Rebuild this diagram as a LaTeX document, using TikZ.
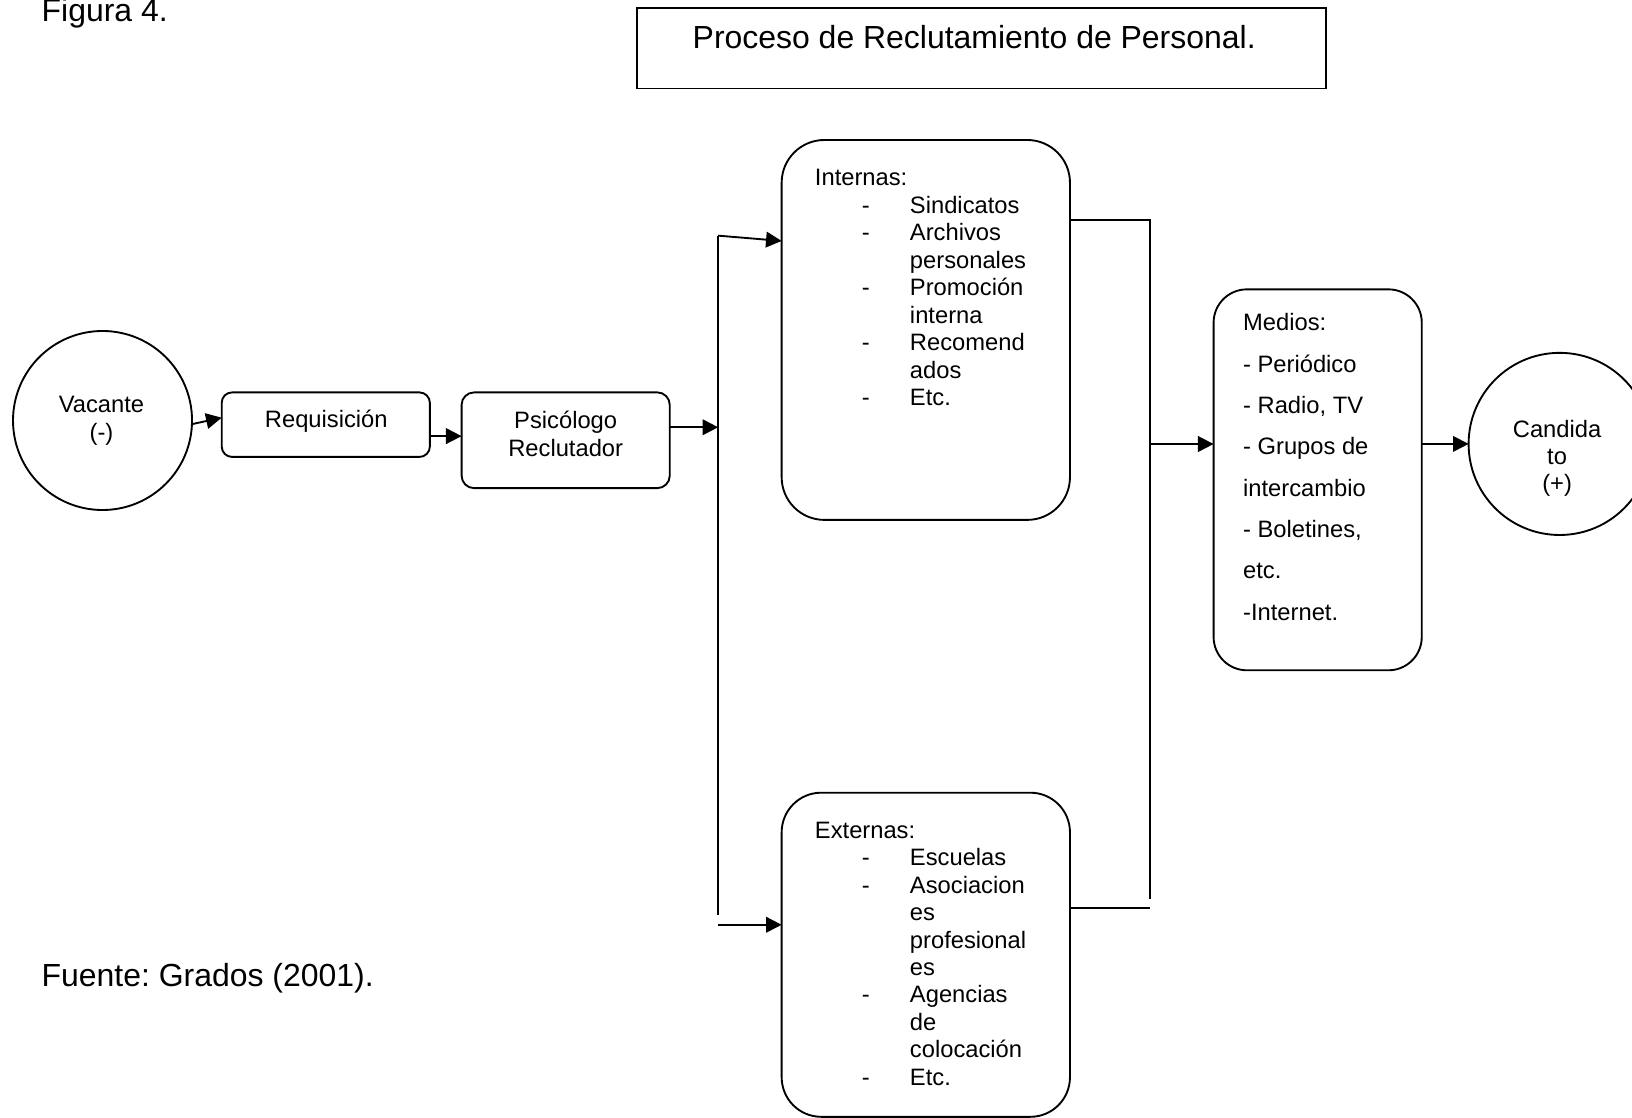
\documentclass[tikz,border=0pt]{standalone}
\usepackage{fontspec}
\setmainfont{Liberation Sans}
\usetikzlibrary{arrows.meta,calc}
\frenchspacing
\begin{document}
\begin{tikzpicture}[x=1pt,y=-1pt,
  every node/.style={inner sep=0pt, outer sep=0pt},
  txt/.style={font=\fontsize{22.8}{26.4}\selectfont},
  big/.style={font=\fontsize{30.7}{35}\selectfont},
  frame/.style={draw, line width=1.8pt},
  rbox/.style={frame, rectangle, rounded corners=#1},
  rbox/.default=10pt,
  ring/.style={frame, circle},
  wire/.style={line width=1.8pt},
  arr/.style={wire, -{Triangle[length=15pt,width=15pt]}},
]
% page
\fill[white] (0,0) rectangle (1568,1074);
\useasboundingbox (0,0) rectangle (1568,1074);
\clip (0,0) rectangle (1568,1074);

% captions
\node[big, anchor=base west] (fig) at (40,20.5) {Figura 4.};
\node[big, anchor=base west] (src) at (40,948) {Fuente: Grados (2001).};

% title
\node[frame, rectangle, minimum width=662pt, minimum height=77pt] (tbox) at (943,46.5) {};
\node[big, anchor=base] (ttl) at (936,47) {Proceso de Reclutamiento de Personal.};

% start / end circles
\node[ring, minimum size=172pt] (vac) at (98.5,404) {};
\foreach \t/\y [count=\i] in {Vacante/396.5, (-)/423}
  \node[txt, anchor=base] (vac-\i) at (97.5,\y) {\t};
\node[ring, minimum size=175pt] (cand) at (1498.5,426.5) {};
\foreach \t/\y [count=\i] in {Candida/420.5, to/446.5, (+)/472.5}
  \node[txt, anchor=base] (cand-\i) at (1496,\y) {\t};

% process boxes
\node[rbox=10pt, minimum width=200pt, minimum height=62pt] (req) at (313,408) {};
\node[txt, anchor=base] (req-t) at (313.5,410.6) {Requisición};
\node[rbox=12pt, minimum width=200pt, minimum height=92pt] (psi) at (543.5,423) {};
\node[txt, anchor=base] (psi-1) at (543.5,412) {Psicólogo};
\node[txt, anchor=base] (psi-2) at (543.5,438.5) {Reclutador};

% sources
\node[rbox=41pt, minimum width=277pt, minimum height=365pt] (int) at (889.5,317) {};
\node[txt, anchor=base west] (int-0) at (783,178.7) {Internas:};
\foreach \d/\t [count=\i] in {-/Sindicatos, -/Archivos, /personales, -/Promoción,
    /interna, -/Recomend, /ados, -/Etc.}{
  \node[txt, anchor=base west] (int-\i) at (874.3,178.7+26.4*\i) {\t};
  \node[txt, anchor=base west] (intd-\i) at (828,178.7+26.4*\i) {\d};
}
\node[rbox=38pt, minimum width=277pt, minimum height=311.4pt] (ext) at (889.5,917.3) {};
\node[txt, anchor=base west] (ext-0) at (783,805.5) {Externas:};
\foreach \d/\t [count=\i] in {-/Escuelas, -/Asociacion, /es, /profesional, /es,
    -/Agencias, /de, /colocación, -/Etc.}{
  \node[txt, anchor=base west] (ext-\i) at (874.3,805.5+26.33*\i) {\t};
  \node[txt, anchor=base west] (extd-\i) at (828,805.5+26.33*\i) {\d};
}

% media
\node[rbox=32pt, minimum width=200pt, minimum height=366pt] (med) at (1266,461) {};
\foreach \t [count=\i from 0] in {Medios:, - Periódico, {- Radio, TV}, - Grupos de,
    intercambio, {- Boletines,}, etc., -Internet.}
  \node[txt, anchor=base west] (med-\i) at (1194.4,318+39.7*\i) {\t};

% junction points
\coordinate (lsplit) at (690,410.5);
\coordinate (ltop) at (690,226.4);
\coordinate (lbot) at (690,879);
\coordinate (llow) at (690,888.5);
\coordinate (rtop) at (1105,211);
\coordinate (rbot) at (1105,864);
\coordinate (rlow) at (1105,872.6);
\coordinate (rmid) at (1105,426.6);

% connectors
\draw[arr] ($(vac.east)+(0,3.5)$) -- ($(req.west)+(0,-6.7)$);
\draw[arr] ($(req.east)+(0,11)$) coordinate (rq) -- (rq -| psi.west);
\draw[arr] (psi.east |- lsplit) -- (lsplit);
\draw[wire] (lbot) -- (ltop);
\draw[arr] (ltop) -- ($(int.north west)+(0,97)$);
\draw[arr] (llow) -- (llow -| ext.west);
\draw[wire] (int.east |- rtop) -- (rtop) -- (rbot);
\draw[wire] (ext.east |- rlow) -- (rlow);
\draw[arr] (rmid) -- (rmid -| med.west);
\draw[arr] (med.east |- cand.west) -- (cand.west);
\end{tikzpicture}
\end{document}
